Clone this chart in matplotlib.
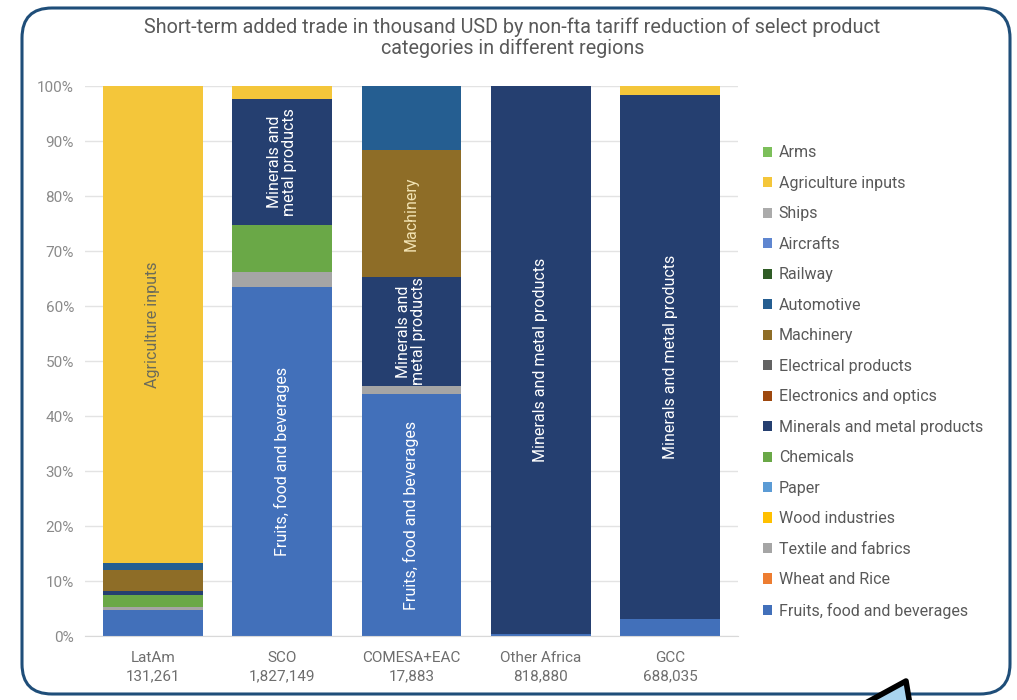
import matplotlib.pyplot as plt
from matplotlib.patches import FancyBboxPatch, Polygon
from matplotlib.ticker import FuncFormatter

# regions and total added trade (thousand USD)
regions = ['LatAm', 'SCO', 'COMESA+EAC', 'Other Africa', 'GCC']
totals = ['131,261', '1,827,149', '17,883', '818,880', '688,035']

# share of each product category (%), bottom of stack first
fruits = [4.7, 63.4, 44.0, 0.3, 3.1]
wheat = [0, 0, 0, 0, 0]
textile = [0.5, 2.7, 1.5, 0, 0]
wood = [0, 0, 0, 0, 0]
paper = [0, 0, 0, 0, 0]
chemicals = [2.2, 8.6, 0, 0, 0]
minerals = [0.8, 22.9, 19.8, 99.7, 95.3]
electronics = [0, 0, 0, 0, 0]
electrical = [0, 0, 0, 0, 0]
machinery = [3.8, 0, 23.1, 0, 0]
automotive = [1.2, 0, 11.6, 0, 0]
railway = [0, 0, 0, 0, 0]
aircrafts = [0, 0, 0, 0, 0]
ships = [0, 0, 0, 0, 0]
agri = [86.8, 2.4, 0, 0, 1.6]
arms = [0, 0, 0, 0, 0]

series = [
    ('Fruits, food and beverages', fruits, '#4270BA'),
    ('Wheat and Rice', wheat, '#ED7D31'),
    ('Textile and fabrics', textile, '#A5A5A5'),
    ('Wood industries', wood, '#FFC000'),
    ('Paper', paper, '#5B9BD5'),
    ('Chemicals', chemicals, '#6AA847'),
    ('Minerals and metal products', minerals, '#253F70'),
    ('Electronics and optics', electronics, '#9E480E'),
    ('Electrical products', electrical, '#636363'),
    ('Machinery', machinery, '#8E6D27'),
    ('Automotive', automotive, '#255E91'),
    ('Railway', railway, '#2F5C26'),
    ('Aircrafts', aircrafts, '#5F86D0'),
    ('Ships', ships, '#ABABAB'),
    ('Agriculture inputs', agri, '#F4C63A'),
    ('Arms', arms, '#7CBF5A'),
]

# in-bar labels: (region index, category, text, colour)
bar_labels = [
    (0, 'Agriculture inputs', 'Agriculture inputs', '#6B6B5A'),
    (1, 'Minerals and metal products', 'Minerals and\nmetal products', 'white'),
    (1, 'Fruits, food and beverages', 'Fruits, food and beverages', 'white'),
    (2, 'Machinery', 'Machinery', '#F2E3B3'),
    (2, 'Minerals and metal products', 'Minerals and\nmetal products', 'white'),
    (2, 'Fruits, food and beverages', 'Fruits, food and beverages', 'white'),
    (3, 'Minerals and metal products', 'Minerals and metal products', 'white'),
    (4, 'Minerals and metal products', 'Minerals and metal products', 'white'),
]

plt.rcParams['font.family'] = ['Roboto', 'DejaVu Sans']

fig = plt.figure(figsize=(10.17, 7.0), dpi=100)
ax = fig.add_axes([0.0836, 0.0914, 0.642, 0.7857])

x = list(range(len(regions)))
bottom = [0.0] * len(regions)
handles = []
positions = {}
for name, vals, col in series:
    b = ax.bar(x, vals, bottom=bottom, width=0.77, color=col, label=name, zorder=2)
    handles.append(b)
    positions[name] = [bo + v / 2 for bo, v in zip(bottom, vals)]
    bottom = [bo + v for bo, v in zip(bottom, vals)]

for i, cat, txt, col in bar_labels:
    ax.text(x[i], positions[cat][i], txt, rotation=90, ha='center', va='center',
            color=col, fontsize=11.5, linespacing=1.0, zorder=3)

ax.set_ylim(0, 100)
ax.set_xlim(-0.525, 4.525)
ax.set_yticks(range(0, 101, 10))
ax.yaxis.set_major_formatter(FuncFormatter(lambda v, p: '%d%%' % v))
ax.set_xticks(x)
ax.set_xticklabels([r + '\n' + t for r, t in zip(regions, totals)], linespacing=1.35)
ax.tick_params(axis='y', length=0, labelsize=11, labelcolor='#8A8A8A', pad=8)
ax.tick_params(axis='x', length=0, labelsize=11, labelcolor='#6E6E6E', pad=11)
ax.grid(axis='y', color='#E3E3E3', linewidth=1, zorder=0)
for s in ['top', 'right', 'left']:
    ax.spines[s].set_visible(False)
ax.spines['bottom'].set_color('#D9D9D9')

fig.text(0.504, 0.946, 'Short-term added trade in thousand USD by non-fta tariff reduction of select product\ncategories in different regions',
         ha='center', va='center', fontsize=14.2, color='#595959', linespacing=1.15)

leg = fig.legend(handles[::-1], [s[0] for s in series][::-1], loc='upper left',
                 bbox_to_anchor=(0.736, 0.813), frameon=False, fontsize=11.5,
                 handlelength=0.6, handleheight=0.6, handletextpad=0.4,
                 labelspacing=0.97)
for t in leg.get_texts():
    t.set_color('#595959')

# rounded frame around the chart
frame = FancyBboxPatch((0.22, 0.06), 9.88, 6.86, boxstyle='round,pad=0,rounding_size=0.3',
                       transform=fig.dpi_scale_trans, facecolor='none',
                       edgecolor='#1F4E79', linewidth=2.2)
fig.patches.append(frame)

# decoration in the lower right corner
deco = Polygon([(8.62, -0.05), (9.06, 0.19), (9.1, -0.05)], closed=True,
               transform=fig.dpi_scale_trans, facecolor='#A9D4EE',
               edgecolor='black', linewidth=4, joinstyle='round')
fig.patches.append(deco)

fig.savefig('out.png', dpi=100)
